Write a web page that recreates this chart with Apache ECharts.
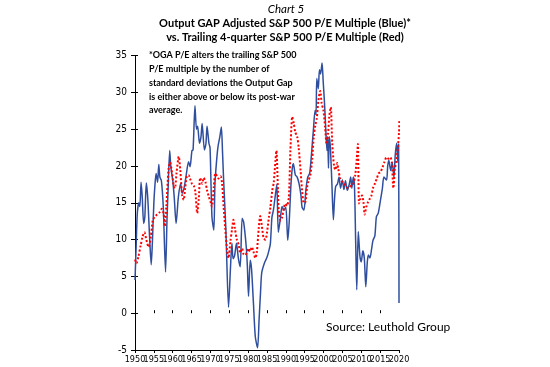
<!DOCTYPE html>
<html>
<head>
<meta charset="utf-8">
<script src="https://cdn.jsdelivr.net/npm/echarts@6/dist/echarts.min.js"></script>
<style>html,body{margin:0;padding:0;background:#fff}#c{width:550px;height:367px}</style>
</head>
<body>
<div id="c"></div>
<script>
// X axis tick labels (years)
const xTicks = [1950,1955,1960,1965,1970,1975,1980,1985,1990,1995,2000,2005,2010,2015,2020];
const yTicks = [-5,0,5,10,15,20,25,30,35];

// Output GAP adjusted P/E (blue)
const blueYears = [
 1950.0,1950.3,1950.6,1951.0,1951.3,1951.6,1951.9,1952.3,1952.6,1953.0,1953.4,1953.9,1954.3,1954.6,1955.0,1955.3,1955.6,1956.0,1956.3,1956.6,1957.0,1957.5,1958.1,1958.5,1958.8,1959.2,1959.5,
 1960.0,1960.4,1960.9,1961.5,1962.1,1962.5,1963.0,1963.5,1964.2,1964.6,1965.1,1965.4,1965.9,1966.3,1966.6,1967.1,1967.5,1967.8,1968.4,1968.8,1969.1,1969.6,1969.9,
 1970.4,1970.9,1971.2,1971.6,1972.0,1972.5,1972.9,1973.2,1973.5,1974.1,1974.8,1975.3,1975.7,1976.0,1976.4,1976.9,1977.4,1977.9,1978.4,1978.8,1979.5,1979.8,
 1980.1,1980.55,1980.9,1981.4,1981.9,1982.5,1982.9,1983.3,1983.6,1984.3,1985.0,1985.5,1985.9,1986.3,1986.7,1987.2,1987.6,1988.0,1988.5,1989.0,1989.5,
 1990.0,1990.5,1990.9,1991.3,1991.7,1992.0,1992.5,1993.0,1993.5,1994.0,1994.3,1994.8,1995.3,1995.8,1996.3,1996.7,1997.0,1997.3,1997.75,1998.0,1998.2,1998.6,1998.9,1999.2,1999.6,1999.9,
 2000.2,2000.5,2000.9,2001.1,2001.3,2001.5,2001.8,2002.2,2002.6,2002.9,2003.2,2003.7,2004.1,2004.5,2005.0,2005.4,2005.8,2006.3,2006.8,2007.2,2007.5,2007.9,2008.2,2008.5,2008.8,2009.2,2009.65,
 2010.0,2010.4,2010.8,2011.2,2011.6,2011.9,2012.3,2012.7,2013.1,2013.6,2014.0,2014.5,2015.1,2015.6,2016.0,2016.7,2017.0,2017.3,2017.8,2018.2,2018.65,2019.0,2019.4,2019.7,2019.9,2020.0
];
const blueValues = [
 4.5,9,13.5,15.0,14.5,17.8,16.0,12.2,13.0,17.7,15.5,10.0,6.6,9.5,15.0,17.5,19.0,17.8,20.2,18.5,18.0,14.4,5.6,13.0,17.2,22.1,19.9,
 18.1,15.8,12.2,15.8,17.6,16.3,17.0,18.5,20.6,19.9,22.1,22.2,28.2,25.0,25.4,23.1,24.0,25.8,22.2,23.0,25.4,23.1,22.5,
 13.1,11.3,17.6,20.5,22.6,24.0,25.3,22.0,18.1,11.3,0.8,6.0,9.5,7.4,7.8,9.5,7.5,6.3,12.9,12.4,9.0,6.3,
 2.3,7.2,6.0,1.4,-3.2,-4.7,-0.9,3.0,5.5,6.8,7.6,8.5,9.5,13.0,14.0,16.0,17.5,11.0,12.7,14.5,14.0,
 14.4,9.9,12.5,17.0,19.7,20.3,18.8,18.5,17.6,16.0,14.4,14.0,16.7,18.5,19.0,21.0,23.0,24.9,27.6,27.0,31.9,30.5,33.1,32.5,34.0,31.5,
 29.0,26.0,22.1,24.0,19.7,24.0,22.6,17.7,12.7,15.5,17.2,17.6,18.5,17.0,18.1,16.8,18.0,16.7,17.5,18.5,17.0,18.5,17.2,10.0,3.2,11.1,7.7,
 7.0,8.5,7.5,3.6,7.0,7.9,7.5,8.6,9.9,10.5,13.1,13.6,15.4,17.0,18.5,18.1,20.0,20.8,19.4,20.5,18.5,21.5,23.1,20.5,23.0,1.4
];

// Trailing 4-quarter P/E (red)
const redYears = [
 1950.0,1950.4,1950.9,1951.5,1952.0,1952.5,1953.0,1953.6,1954.2,1954.7,1955.2,1955.8,1956.5,1957.1,1957.6,1957.9,1958.3,1958.9,1959.3,1959.7,
 1960.3,1960.6,1961.0,1961.6,1962.0,1962.5,1962.9,1963.3,1963.7,1964.2,1964.6,1965.1,1965.6,1966.0,1966.5,1966.9,1967.3,1967.8,1968.2,1968.7,1969.1,1969.6,
 1970.1,1970.4,1970.9,1971.3,1971.8,1972.2,1972.7,1973.1,1973.5,1973.9,1974.4,1974.8,1975.3,1975.7,1976.1,1976.5,1977.0,1977.5,1977.9,1978.4,1978.8,1979.2,1979.7,
 1980.1,1980.5,1981.0,1981.4,1981.9,1982.3,1982.8,1983.2,1983.6,1984.1,1984.6,1985.0,1985.5,1985.9,1986.4,1986.8,1987.25,1987.5,1987.9,1988.1,1988.6,1989.0,1989.5,1989.9,
 1990.3,1990.8,1991.2,1991.7,1992.1,1992.5,1993.0,1993.4,1993.9,1994.3,1994.75,1995.1,1995.6,1996.0,1996.5,1997.0,1997.4,1997.8,1998.2,1998.6,1999.1,1999.5,1999.95,
 2000.4,2000.8,2001.2,2001.5,2001.9,2002.3,2002.8,2003.2,2003.6,2003.9,2004.4,2005.0,2005.5,2006.0,2006.5,2007.0,2007.5,2007.9,2008.4,2008.8,2009.1,2009.4,2009.8,
 2010.2,2010.6,2010.9,2011.3,2011.7,2012.2,2012.7,2013.1,2013.6,2014.1,2014.6,2015.1,2015.6,2016.1,2016.7,2017.2,2017.7,2018.1,2018.5,2018.9,2019.3,2019.7,2020.0,2020.1
];
const redValues = [
 7.3,6.8,7.7,9.2,10.4,11.0,10.0,9.0,10.4,12.6,13.1,13.4,13.7,14.2,13.5,11.8,14.5,19.6,20.5,19.5,
 17.2,17.0,19.0,21.3,19.5,16.0,15.4,17.0,18.5,18.8,18.3,17.6,17.3,16.5,13.6,15.5,18.4,17.6,18.4,17.8,16.7,15.8,
 15.0,14.5,17.2,19.0,18.6,18.3,18.6,17.6,14.4,11.7,8.6,7.5,9.8,11.3,12.7,11.5,10.0,9.3,8.2,8.8,8.0,7.9,8.3,
 8.8,8.4,9.0,8.4,7.5,8.3,11.5,13.2,12.0,10.2,10.0,11.0,13.0,14.4,16.7,17.8,20.8,22.1,16.7,14.0,12.6,13.0,14.4,14.9,
 14.6,15.8,22.1,26.7,25.8,24.6,24.0,22.5,19.4,16.7,15.0,15.0,17.0,18.0,18.8,21.0,24.0,25.5,26.5,28.8,30.2,28.5,27.6,
 25.3,23.0,24.5,26.7,28.0,23.1,19.9,19.5,20.4,19.6,18.3,17.8,17.6,17.2,17.0,17.2,17.4,17.6,18.8,21.0,23.0,14.9,15.6,
 16.0,15.0,13.4,14.4,15.0,15.5,16.0,17.0,17.6,18.3,19.0,19.2,19.8,20.5,21.2,21.0,21.2,20.5,17.0,19.5,20.8,22.5,24.5,26.3
];

const chart = echarts.init(document.getElementById('c'), null, {renderer: 'canvas'});
const xMin = xTicks[0], xMax = xTicks[xTicks.length - 1];
const yMin = yTicks[0], yMax = yTicks[yTicks.length - 1];
const fontFam = "Lato, 'Open Sans', sans-serif";
const tickFont = "'Liberation Sans Narrow', 'DejaVu Sans Condensed', 'Liberation Sans', sans-serif";

const baseX = {
  type: 'value', min: xMin, max: xMax, interval: 5, position: 'bottom',
  splitLine: {show: false}
};
const baseY = {
  type: 'value', min: yMin, max: yMax, interval: 5, position: 'left',
  splitLine: {show: false}
};
// Labels split over two overlaid axes (decades / mid-decades) so none is dropped
const labelFor = (v, parity) => {
  const y = Math.round(v);
  const idx = xTicks.indexOf(y);
  return (idx >= 0 && idx % 2 === parity) ? String(y) : '';
};
const xLabelStyle = {color: '#000', fontSize: 9, fontFamily: tickFont, margin: 5, hideOverlap: false};

chart.setOption({
  animation: false,
  backgroundColor: '#fff',
  grid: {left: 135, right: 151, top: 55.7, bottom: 17, containLabel: false},
  xAxis: [
    Object.assign({}, baseX, {
      axisLine: {show: true, onZero: false, lineStyle: {color: '#000', width: 1}},
      axisTick: {show: true, length: 3, lineStyle: {color: '#000'}},
      axisLabel: Object.assign({}, xLabelStyle, {showMinLabel: true, showMaxLabel: true,
                  formatter: v => labelFor(v, 0)})
    }),
    Object.assign({}, baseX, {
      axisLine: {show: false},
      axisTick: {show: true, inside: true, length: 3, lineStyle: {color: '#000'}},
      axisLabel: Object.assign({}, xLabelStyle, {showMinLabel: false, showMaxLabel: false,
                  formatter: v => labelFor(v, 1)})
    })
  ],
  yAxis: [
    Object.assign({}, baseY, {
      axisLine: {show: true, onZero: false, lineStyle: {color: '#000', width: 1}},
      axisTick: {show: true, length: 4, lineStyle: {color: '#000'}},
      axisLabel: {color: '#000', fontSize: 10, fontFamily: tickFont, margin: 8,
                  showMinLabel: true, showMaxLabel: true}
    }),
    Object.assign({}, baseY, {
      axisLine: {show: false},
      axisTick: {show: true, inside: true, length: 3, lineStyle: {color: '#000'}},
      axisLabel: {show: false}
    })
  ],
  series: [
    {
      name: 'OGA P/E', type: 'line', xAxisIndex: 0, yAxisIndex: 0,
      data: blueYears.map((y, i) => [y, blueValues[i]]),
      showSymbol: false, smooth: 0.25,
      lineStyle: {color: '#2f4f9e', width: 1.5},
      z: 2
    },
    {
      name: 'Trailing P/E', type: 'line', xAxisIndex: 0, yAxisIndex: 0,
      data: redYears.map((y, i) => [y, redValues[i]]),
      showSymbol: false, smooth: 0.25,
      lineStyle: {color: '#ff0000', width: 2, type: [2, 2]},
      z: 3
    }
  ],
  graphic: [
    {type: 'text', x: 286, y: 9, style: {text: 'Chart 5', font: "italic 11.5px " + fontFam, fill: '#000', align: 'center', verticalAlign: 'middle'}},
    {type: 'text', x: 285, y: 23, style: {text: 'Output GAP Adjusted S&P 500 P/E Multiple (Blue)*', font: "bold 11px " + fontFam, fill: '#000', align: 'center', verticalAlign: 'middle'}},
    {type: 'text', x: 285, y: 37, style: {text: 'vs. Trailing 4-quarter S&P 500 P/E Multiple (Red)', font: "bold 11px " + fontFam, fill: '#000', align: 'center', verticalAlign: 'middle'}},
    {type: 'text', x: 149, y: 48, style: {
      text: '*OGA P/E alters the trailing S&P 500\nP/E multiple by the number of\nstandard deviations the Output Gap\nis either above or below its post-war\naverage.',
      font: "bold 9px " + fontFam, fill: '#000', align: 'left', verticalAlign: 'top', lineHeight: 13.9}},
    {type: 'text', x: 326, y: 327, style: {text: 'Source: Leuthold Group', font: "12px " + fontFam, fill: '#000', align: 'left', verticalAlign: 'middle'}}
  ]
});
</script>
</body>
</html>
